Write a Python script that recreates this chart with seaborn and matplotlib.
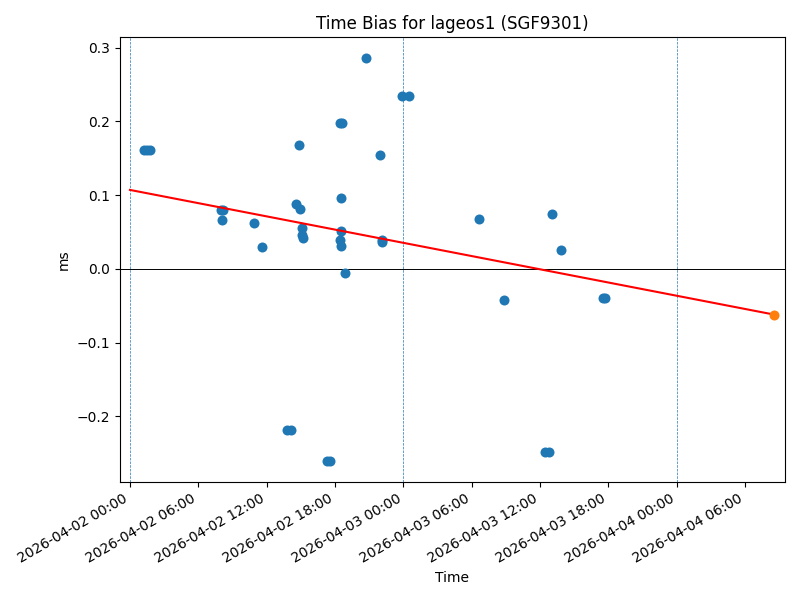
import matplotlib
matplotlib.use("Agg")
import matplotlib.pyplot as plt
import matplotlib.dates as mdates
import numpy as np
import pandas as pd
import seaborn as sns

# observed time bias points (ms)
obs_times = [
    "2026-04-02 01:15", "2026-04-02 01:30", "2026-04-02 01:43",
    "2026-04-02 07:58", "2026-04-02 08:09", "2026-04-02 08:06",
    "2026-04-02 10:54", "2026-04-02 11:38",
    "2026-04-02 13:48", "2026-04-02 14:06",
    "2026-04-02 14:34", "2026-04-02 14:52", "2026-04-02 14:53",
    "2026-04-02 15:07", "2026-04-02 15:07", "2026-04-02 15:12",
    "2026-04-02 17:18", "2026-04-02 17:36",
    "2026-04-02 18:28", "2026-04-02 18:37",
    "2026-04-02 18:30", "2026-04-02 18:30", "2026-04-02 18:24", "2026-04-02 18:30",
    "2026-04-02 18:50", "2026-04-02 20:45", "2026-04-02 21:55",
    "2026-04-02 22:06", "2026-04-02 22:06",
    "2026-04-02 23:53", "2026-04-03 00:31",
    "2026-04-03 06:37", "2026-04-03 08:48",
    "2026-04-03 12:24", "2026-04-03 12:48",
    "2026-04-03 13:02", "2026-04-03 13:50",
    "2026-04-03 17:30", "2026-04-03 17:42",
]
obs_bias = [
    0.161, 0.161, 0.161,
    0.080, 0.080, 0.066,
    0.062, 0.030,
    -0.218, -0.218,
    0.088, 0.168, 0.081,
    0.055, 0.046, 0.0415,
    -0.261, -0.261,
    0.198, 0.198,
    0.096, 0.051, 0.039, 0.031,
    -0.0054, 0.2865, 0.154,
    0.039, 0.036,
    0.235, 0.235,
    0.067, -0.042,
    -0.248, -0.248,
    0.075, 0.025,
    -0.039, -0.039,
]

# linear fit line and predicted value
fit_times = ["2026-04-02 00:00", "2026-04-04 08:32"]
fit_bias = [0.107, -0.062]
pred_time = "2026-04-04 08:32"
pred_bias = -0.062

day_marks = ["2026-04-02", "2026-04-03", "2026-04-04"]

df = pd.DataFrame({"time": pd.to_datetime(obs_times), "bias": obs_bias})
fit_df = pd.DataFrame({"time": pd.to_datetime(fit_times), "bias": fit_bias})

fig, ax = plt.subplots(figsize=(8, 6), dpi=100)

for d in day_marks:
    ax.axvline(pd.Timestamp(d), color="#1f77b4", linestyle="--", linewidth=0.5)
ax.axhline(0, color="black", linewidth=0.7)

sns.scatterplot(data=df, x="time", y="bias", ax=ax, color="#1f77b4", s=52, linewidth=0, zorder=3)
sns.lineplot(data=fit_df, x="time", y="bias", ax=ax, color="red", linewidth=1.5, zorder=4)
sns.scatterplot(x=[pd.Timestamp(pred_time)], y=[pred_bias], ax=ax, color="#ff7f0e", s=52, linewidth=0, zorder=5)

ax.set_xlim(pd.Timestamp("2026-04-01 23:07"), pd.Timestamp("2026-04-04 09:30"))
ax.xaxis.set_major_locator(mdates.HourLocator(byhour=range(0, 24, 6)))
ax.xaxis.set_major_formatter(mdates.DateFormatter("%Y-%m-%d %H:%M"))

ax.set_title("Time Bias for lageos1 (SGF9301)")
ax.set_xlabel("Time")
ax.set_ylabel("ms")
fig.autofmt_xdate()
plt.tight_layout()
plt.savefig("out.png")
plt.close()
